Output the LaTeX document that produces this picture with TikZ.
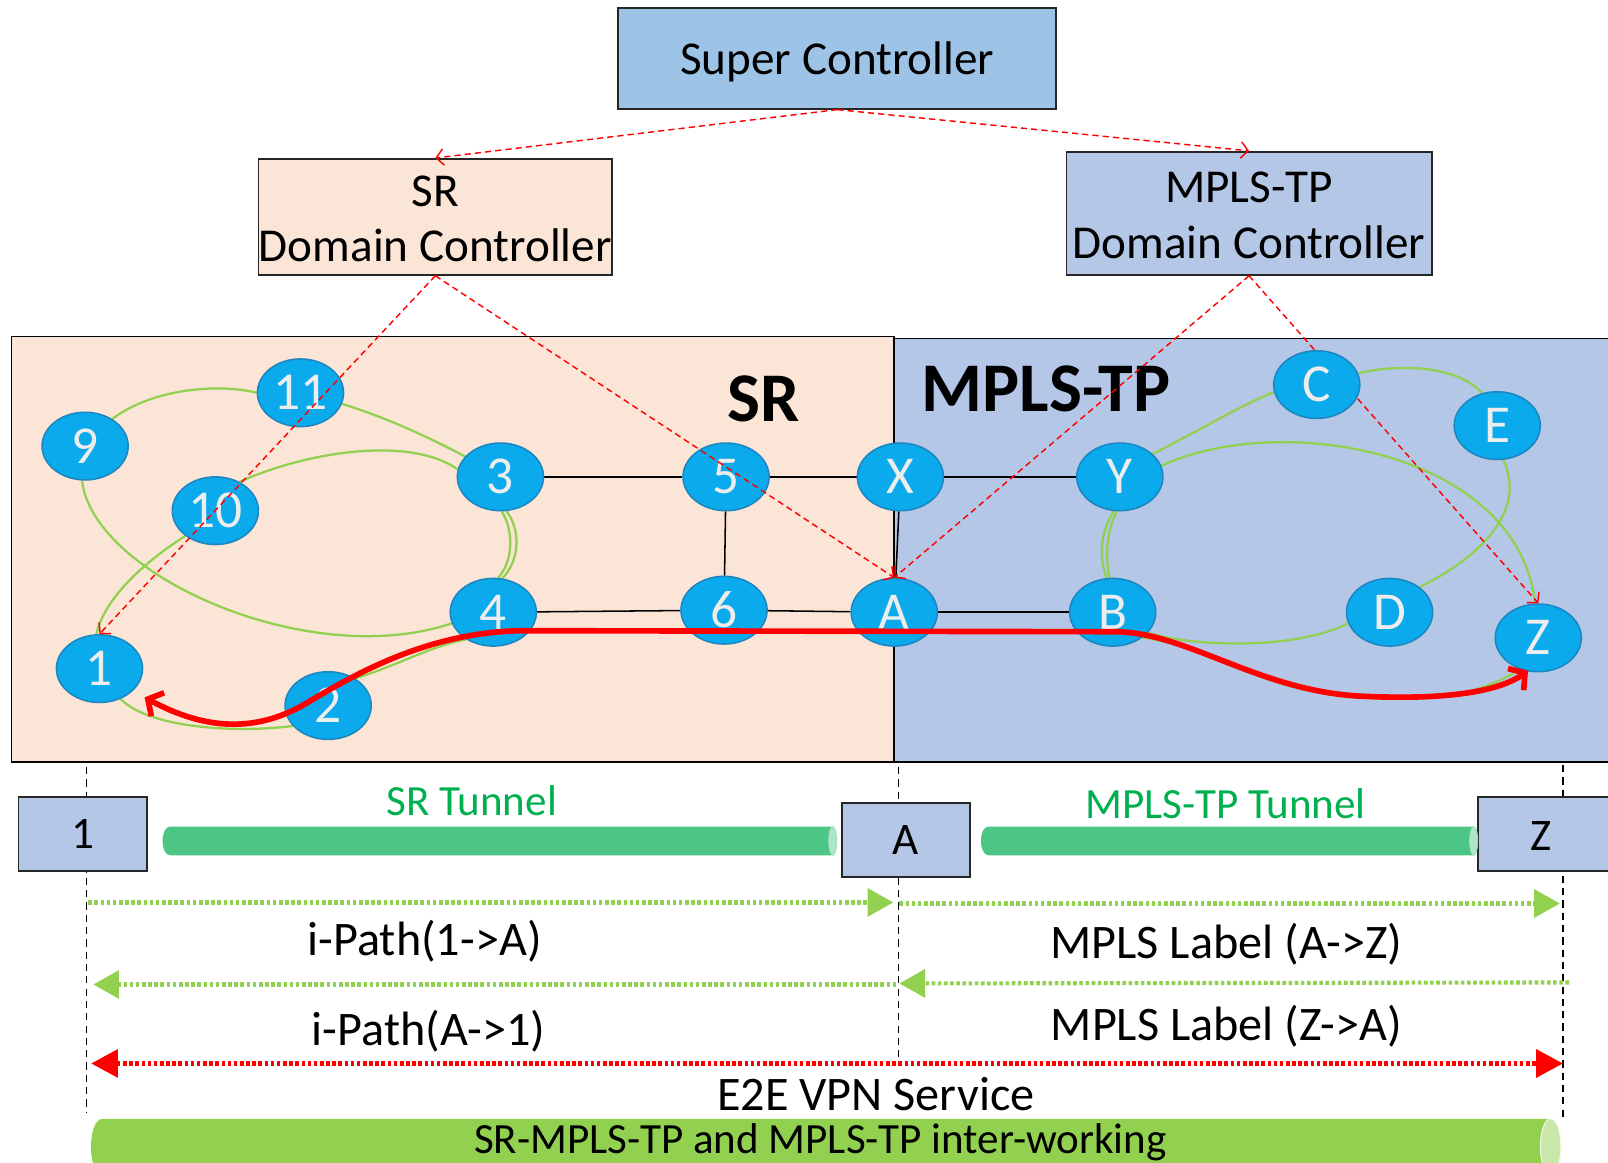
\documentclass[tikz,border=0pt]{standalone}
\usepackage{fontspec}
\setmainfont{Carlito}
\usetikzlibrary{arrows.meta,shapes.geometric}
\definecolor{peach}{HTML}{FBE5D6}
\definecolor{mplsblue}{HTML}{B4C7E7}
\definecolor{supblue}{HTML}{9DC3E6}
\definecolor{nodecyan}{HTML}{0AAAEC}
\definecolor{nodeedge}{HTML}{1D86C0}
\definecolor{lgreen}{HTML}{92D050}
\definecolor{tgreen}{HTML}{4CC585}
\definecolor{txtgreen}{HTML}{00B050}
\newcommand\fsz[2]{\fontsize{#1}{#2}\selectfont}
\newcommand\lowr[2]{\raisebox{-#1}[\height][\depth]{#2}}
\pgfdeclarelayer{bg}
\pgfdeclarelayer{links}
\pgfsetlayers{bg,links,main}
\begin{document}
\begin{tikzpicture}[x=1pt,y=-1pt,
  rnode/.style={ellipse, fill=nodecyan, draw=nodeedge, line width=1.5pt, minimum width=84pt, minimum height=66pt, inner sep=0pt, text=white!93!black, font=\fsz{52}{60}},
  ctrl/.style={rectangle, draw=black!85, line width=1.8pt, inner sep=0pt, align=center, font=\fsz{46}{54}},
  link/.style={black, line width=1.5pt},
  glink/.style={lgreen, line width=2.2pt},
  rdash/.style={red, line width=1.4pt, dash pattern=on 6pt off 4pt, -{Straight Barb[length=7pt,width=16pt]}},
  rpath/.style={red, line width=5.5pt, {Straight Barb[length=11pt,width=26pt]}-{Straight Barb[length=11pt,width=26pt]}},
  lifeline/.style={black, line width=1.2pt, dash pattern=on 7pt off 5pt},
  gdot/.style={lgreen, line width=4pt, dash pattern=on 3.5pt off 2.5pt, -{Triangle[length=25pt,width=27pt]}},
  rdot/.style={red, line width=4pt, dash pattern=on 3.5pt off 2.5pt, {Triangle[length=26pt,width=27pt]}-{Triangle[length=26pt,width=27pt]}},
  ebox/.style={draw=black!85, fill=mplsblue, line width=1.8pt, minimum width=125pt, minimum height=72pt, inner sep=0pt, font=\fsz{44}{52}},
  lbl/.style={inner sep=0pt, font=\fsz{47}{54}},
  tlbl/.style={inner sep=0pt, text=txtgreen, font=\fsz{42}{48}},
  big/.style={inner sep=0pt, font=\bfseries\fsz{68}{76}}
]
\useasboundingbox (0,0) rectangle (1568,1134);

% ---------- background and domain regions ----------
\begin{pgfonlayer}{bg}
\fill[white] (0,0) rectangle (1568,1134);
\filldraw[fill=peach, draw=black, line width=1.5pt] (11,328) rectangle (872,743);
\fill[mplsblue] (872,330) rectangle (1568,743);
\draw[black, line width=1.5pt] (1568,330) -- (872,330) -- (872,743) -- (1568,743);
\end{pgfonlayer}

\node[big] (srlbl) at (745,389) {SR};
\node[big] (mplslbl) at (1020,379) {MPLS-TP};

% ---------- controllers ----------
\node[ctrl, fill=supblue, minimum width=427pt, minimum height=98pt] (sup) at (816.5,57) {\lowr{3pt}{Super Controller}};
\node[ctrl, fill=peach, minimum width=345pt, minimum height=113pt] (srdc) at (424.5,211.5) {\lowr{2pt}{SR}\\\lowr{2pt}{Domain Controller}};
\node[ctrl, fill=mplsblue, minimum width=356pt, minimum height=120pt] (mpdc) at (1218,208) {\lowr{2pt}{MPLS-TP}\\\lowr{2pt}{Domain Controller}};

% ---------- network nodes ----------
\node[rnode] (n9) at (83,435) {9};
\node[rnode] (n11) at (293,383) {11};
\node[rnode] (n10) at (210,498) {10};
\node[rnode] (n3) at (488,465) {3};
\node[rnode] (n5) at (708,465) {5};
\node[rnode] (nX) at (878,465) {X};
\node[rnode] (nY) at (1092,465) {Y};
\node[rnode] (n4) at (481,597) {4};
\node[rnode] (n6) at (706,595) {6};
\node[rnode] (nA) at (872,597) {A};
\node[rnode] (nB) at (1085,597) {B};
\node[rnode] (nD) at (1355,597) {D};
\node[rnode] (nZ) at (1500,622) {Z};
\node[rnode] (n1) at (97,652) {1};
\node[rnode] (n2) at (320,688) {2};
\node[rnode] (nC) at (1284,375) {C};
\node[rnode] (nE) at (1460,415) {E};

% ---------- links (behind nodes) ----------
\begin{pgfonlayer}{links}
\draw[link] (n3) -- (n5);
\draw[link] (n5) -- (nX);
\draw[link] (nX) -- (nY);
\draw[link] (n5) -- (n6);
\draw[link] (n4) -- (n6);
\draw[link] (n6) -- (nA);
\draw[link] (nA) -- (nB);
\draw[link] (nX) -- (nA);
% SR green links
\draw[glink] (n9.45) .. controls (150,378) and (215,374) .. (n11.west);
\draw[glink] (n11.-15) .. controls (380,408) and (425,430) .. (n3.150);
\draw[glink] (n10.50) .. controls (300,440) and (400,425) .. (n3.170);
\draw[glink] (n9.-95) .. controls (90,560) and (300,655) .. (n4.195);
\draw[glink] (n3.-88) .. controls (500,515) and (502,545) .. (n4.82);
\draw[glink] (n3.-80) .. controls (507,515) and (508,545) .. (n4.75);
\draw[glink] (n10.-140) .. controls (130,555) and (100,590) .. (n1.95);
\draw[glink] (n1.-55) .. controls (145,710) and (230,715) .. (n2.210);
\draw[glink] (n2.45) .. controls (390,648) and (420,630) .. (n4.225);
% MPLS-TP green links
\draw[glink] (nY.35) .. controls (1160,425) and (1210,395) .. (nC.190);
\draw[glink] (nC.15) .. controls (1360,355) and (1420,355) .. (nE.115);
\draw[glink] (nY.15) .. controls (1250,400) and (1480,440) .. (nZ.95);
\draw[glink] (nE.-80) .. controls (1490,500) and (1440,545) .. (nD.40);
\draw[glink] (nY.-95) .. controls (1078,520) and (1078,545) .. (nB.95);
\draw[glink] (nY.-100) .. controls (1072,520) and (1072,545) .. (nB.100);
\draw[glink] (nB.-30) .. controls (1160,630) and (1260,635) .. (nD.195);
\draw[glink] (nB.-40) .. controls (1200,635) and (1230,680) .. (1350,681) .. controls (1420,682) and (1450,672) .. (nZ.-120);
% control line passing behind C
\draw[rdash] (mpdc.south) -- (nZ.north);
\end{pgfonlayer}

% ---------- end-to-end red path ----------
\coordinate (tip1) at (141,680);
\coordinate (tipZ) at (1490,654);
\draw[rpath] (tip1) .. controls (200,712) and (250,715) .. (300,685)
  .. controls (350,655) and (420,616) .. (510,615)
  -- (1090,616)
  .. controls (1160,618) and (1230,675) .. (1330,679)
  .. controls (1420,683) and (1465,672) .. (tipZ);

% ---------- control lines ----------
\draw[rdash] (sup.south) -- (srdc.north);
\draw[rdash] (sup.south) -- (mpdc.north);
\draw[rdash] (srdc.south) -- (n1.north);
\draw[rdash] (srdc.south) -- (nA.north);
\draw[rdash] (mpdc.south) -- (nA.north);

% ---------- lower sequence part ----------
\coordinate (l1t) at (84,748);
\coordinate (l1b) at (84,1085);
\coordinate (lAt) at (876,748);
\coordinate (lAb) at (876,1032);
\coordinate (lZt) at (1524,746);
\coordinate (lZb) at (1524,1090);
\draw[lifeline] (l1t) -- (l1b);
\draw[lifeline] (lAt) -- (lAb);
\draw[lifeline] (lZt) -- (lZb);

\node[ebox] (b1) at (80.5,813) {1};
\node[ebox] (bA) at (883.5,819) {A};
\fill[mplsblue] (1441,777) rectangle (1568,849);
\draw[black!85, line width=1.8pt] (1568,777) -- (1441,777) -- (1441,849) -- (1568,849);
\node[inner sep=0pt, font=\fsz{44}{52}] (bZ) at (1503,815) {Z};

% tunnels
\fill[tgreen] (166,834) .. controls (156,834) and (156,806) .. (166,806) -- (812,806) -- (812,834) -- cycle;
\filldraw[fill=tgreen!45!white, draw=tgreen!55!white, line width=0.8pt] (812,820) ellipse [x radius=4, y radius=14];
\fill[tgreen] (964,834) .. controls (954,834) and (954,806) .. (964,806) -- (1437,806) -- (1437,834) -- cycle;
\filldraw[fill=tgreen!45!white, draw=tgreen!55!white, line width=0.8pt] (1437,820) ellipse [x radius=4, y radius=14];
\node[tlbl] (srt) at (460,781) {SR Tunnel};
\node[tlbl] (mpt) at (1195,784) {MPLS-TP Tunnel};

% message arrows
\draw[gdot] (86,880) -- (871,880);
\draw[gdot] (877,881) -- (1521,881);
\draw[gdot] (874,960) -- (91,960);
\draw[gdot] (1530,958) -- (877,959);
\draw[rdot] (89,1037) -- (1524,1037);

\node[lbl] (p1) at (414,918) {i-Path(1->A)};
\node[lbl] (m1) at (1196,921) {MPLS Label (A->Z)};
\node[lbl] (p2) at (418,1006) {i-Path(A->1)};
\node[lbl] (m2) at (1196,1001) {MPLS Label (Z->A)};
\node[lbl] (e2e) at (854,1067) {E2E VPN Service};

% service bar
\fill[lgreen] (100,1146) .. controls (85,1146) and (85,1091) .. (100,1091) -- (1512,1091) -- (1512,1146) -- cycle;
\filldraw[fill=lgreen!50!white, draw=white!85!lgreen, line width=1pt] (1512,1118) ellipse [x radius=10, y radius=27];
\node[inner sep=0pt, font=\fsz{42}{48}] (svc) at (800,1114) {SR-MPLS-TP and MPLS-TP inter-working};
\end{tikzpicture}
\end{document}
